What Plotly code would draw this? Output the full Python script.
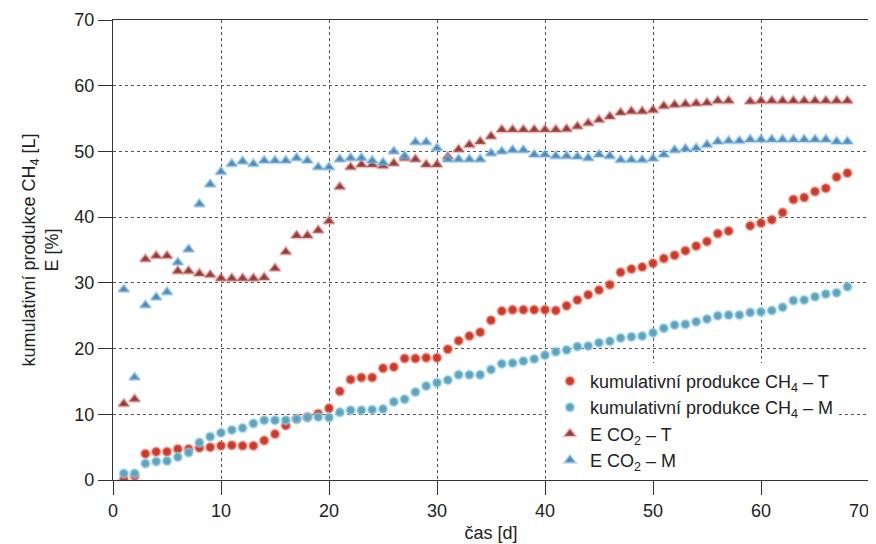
import plotly.graph_objects as go

days = list(range(1, 69))

ch4_t = [0.1, 0.6, 4.0, 4.3, 4.3, 4.7, 4.7, 4.9, 5.0, 5.2,
         5.3, 5.2, 5.2, 6.0, 7.0, 8.3, 9.3, 9.6, 10.1, 10.9,
         13.5, 15.3, 15.6, 15.6, 17.0, 17.2, 18.5, 18.5, 18.6, 18.6,
         19.9, 21.2, 21.9, 22.5, 24.3, 25.7, 25.9, 25.9, 25.9, 25.9,
         25.8, 26.5, 27.4, 28.2, 28.9, 29.7, 31.6, 32.1, 32.4, 33.0,
         33.7, 34.2, 34.9, 35.6, 36.3, 37.5, 37.9, None, 38.7, 39.1,
         39.6, 40.7, 42.7, 43.0, 43.9, 44.4, 46.1, 46.7]

ch4_m = [1.0, 1.0, 2.5, 2.8, 2.9, 3.5, 4.2, 5.7, 6.6, 7.2,
         7.6, 7.9, 8.6, 9.1, 9.1, 9.1, 9.3, 9.5, 9.6, 9.5,
         10.3, 10.6, 10.6, 10.7, 10.8, 11.9, 12.3, 13.4, 14.3, 14.8,
         15.2, 16.0, 16.0, 16.0, 16.8, 17.7, 17.8, 18.1, 18.4, 19.0,
         19.5, 19.8, 20.3, 20.4, 20.9, 21.1, 21.6, 21.8, 21.9, 22.4,
         23.1, 23.6, 23.7, 24.1, 24.5, 25.0, 25.1, 25.1, 25.5, 25.6,
         25.8, 26.3, 27.3, 27.4, 27.9, 28.3, 28.5, 29.4]

eco2_t = [11.6, 12.3, 33.6, 34.1, 34.1, 31.8, 31.8, 31.4, 31.2, 30.7,
          30.7, 30.7, 30.7, 30.8, 32.2, 34.7, 37.2, 37.2, 38.0, 39.4,
          44.6, 47.6, 48.0, 48.0, 47.8, 48.2, 49.0, 48.8, 48.0, 48.0,
          49.2, 50.3, 51.0, 51.5, 52.3, 53.3, 53.3, 53.3, 53.3, 53.3,
          53.3, 53.4, 53.8, 54.3, 54.8, 55.3, 55.9, 56.1, 56.1, 56.3,
          56.9, 57.1, 57.2, 57.3, 57.4, 57.7, 57.7, None, 57.6, 57.7,
          57.7, 57.7, 57.7, 57.7, 57.7, 57.7, 57.7, 57.7]

eco2_m = [29.0, 15.6, 26.6, 27.8, 28.6, 33.1, 35.1, 42.0, 45.0, 46.9,
          48.1, 48.5, 48.1, 48.6, 48.6, 48.6, 49.0, 48.6, 47.6, 47.6,
          48.8, 49.0, 49.0, 48.6, 48.3, 50.0, 49.3, 51.4, 51.4, 50.5,
          48.8, 48.8, 48.8, 48.8, 49.7, 50.0, 50.2, 50.2, 49.5, 49.5,
          49.3, 49.3, 49.2, 49.0, 49.5, 49.3, 48.7, 48.7, 48.7, 48.9,
          49.5, 50.2, 50.4, 50.5, 51.0, 51.5, 51.6, 51.6, 51.8, 51.8,
          51.8, 51.8, 51.8, 51.8, 51.8, 51.8, 51.5, 51.5]

names = ["kumulativní produkce CH<sub>4</sub> – T",
         "kumulativní produkce CH<sub>4</sub> – M",
         "E CO<sub>2</sub> – T",
         "E CO<sub>2</sub> – M"]

x_ticks = [0, 10, 20, 30, 40, 50, 60, 70]
x_tick_labels = ["0", "10", "20", "30", "40", "50", "60", "70"]
y_ticks = [0, 10, 20, 30, 40, 50, 60, 70]

styles = [
    dict(symbol="circle", color="#c93a2c", line=dict(color="rgba(240,120,100,0.45)", width=2.5), size=8.5),
    dict(symbol="circle", color="#5fa3bb", line=dict(color="rgba(150,210,235,0.5)", width=2.5), size=8.5),
    dict(symbol="triangle-up", color="#8e3a3a", line=dict(color="rgba(215,120,115,0.45)", width=2.5), size=9.5),
    dict(symbol="triangle-up", color="#4f88b0", line=dict(color="rgba(130,190,235,0.5)", width=2.5), size=9.5),
]

fig = go.Figure()
for name, ys, st in zip(names, [ch4_t, ch4_m, eco2_t, eco2_m], styles):
    fig.add_trace(go.Scatter(x=days, y=ys, mode="markers", name=name, marker=st))

font = dict(family="Liberation Sans, Arial, sans-serif", size=18, color="#222")

# last x tick label sits flush at the right edge, as in the original
x_text = x_tick_labels[:-1] + [x_tick_labels[-1] + "\u2007\u2007"]

# page body has an 8px default margin, so the figure is sized to fit inside it
fig.update_layout(
    width=868, height=536,
    margin=dict(l=105, r=7, t=12, b=64, autoexpand=False),
    paper_bgcolor="white", plot_bgcolor="white",
    font=font,
    showlegend=True,
    legend=dict(x=0.578, y=0.255, xanchor="left", yanchor="top",
                bgcolor="white", font=dict(size=18, color="#222"),
                tracegroupgap=0, itemwidth=30),
)
fig.update_xaxes(range=[0, 70], tickvals=x_ticks, ticktext=x_text,
                 ticks="outside", ticklen=14,
                 tickcolor="#333", showline=True, linecolor="#333", linewidth=1.2,
                 mirror=True, showgrid=True, gridcolor="#555", griddash="dot",
                 gridwidth=1, zeroline=False, tickfont=dict(size=18),
                 ticklabeloverflow="allow",
                 title=dict(text="čas [d]", standoff=6, font=dict(size=18)))
fig.update_yaxes(range=[0, 70], tickvals=y_ticks, ticks="outside", ticklen=14,
                 tickcolor="#333", showline=True, linecolor="#333", linewidth=1.2,
                 mirror=True, showgrid=True, gridcolor="#555", griddash="dot",
                 gridwidth=1, zeroline=False, tickfont=dict(size=18),
                 ticklabeloverflow="allow",
                 title=dict(text="kumulativní produkce CH<sub>4</sub> [L]<br>E [%]",
                            standoff=10, font=dict(size=18)))

fig.write_html("out.html")
